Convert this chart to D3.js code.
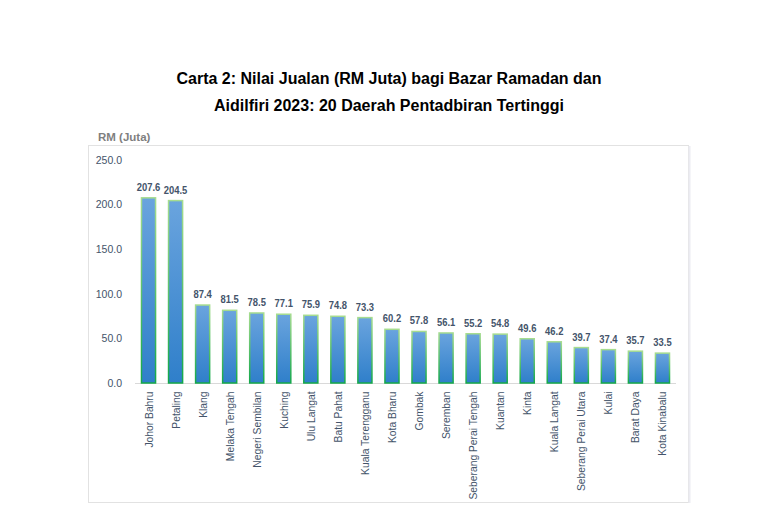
<!DOCTYPE html>
<html><head><meta charset="utf-8">
<script src="https://cdn.jsdelivr.net/npm/d3@7/dist/d3.min.js"></script>
<style>body{margin:0;background:#fff;} svg{display:block;}</style>
</head><body>
<svg id="c" width="778" height="524"></svg>
<script>
const categories = ["Johor Bahru","Petaling","Klang","Melaka Tengah","Negeri Sembilan","Kuching","Ulu Langat","Batu Pahat","Kuala Terengganu","Kota Bharu","Gombak","Seremban","Seberang Perai Tengah","Kuantan","Kinta","Kuala Langat","Seberang Perai Utara","Kulai","Barat Daya","Kota Kinabalu"];
const values = [207.6,204.5,87.4,81.5,78.5,77.1,75.9,74.8,73.3,60.2,57.8,56.1,55.2,54.8,49.6,46.2,39.7,37.4,35.7,33.5];
const yTicks = [0,50,100,150,200,250];
const titleLines = ["Carta 2: Nilai Jualan (RM Juta) bagi Bazar Ramadan dan","Aidilfiri 2023: 20 Daerah Pentadbiran Tertinggi"];
const yTitle = "RM (Juta)";

const svg = d3.select("#c");
const font = "'Liberation Sans', Arial, sans-serif";
const textCol = "#44546a";

// title
svg.selectAll("text.title").data(titleLines).join("text")
  .attr("x", 389).attr("y", (d,i)=>84 + i*27)
  .attr("text-anchor","middle").attr("font-family",font).attr("font-weight","bold")
  .attr("font-size",16).attr("fill","#000").text(d=>d);

// chart frame
svg.append("rect").attr("x",88.5).attr("y",145.5).attr("width",600).attr("height",357)
  .attr("fill","#fff").attr("stroke","#e2e2e2").attr("stroke-width",1);
svg.append("line").attr("x1",689.5).attr("x2",689.5).attr("y1",146).attr("y2",503)
  .attr("stroke","#ececf2").attr("stroke-width",2);

svg.append("text").attr("x",98).attr("y",141).attr("font-family",font).attr("font-weight","bold")
  .attr("font-size",11.5).attr("fill","#7f7f7f").text(yTitle);

const x = d3.scaleBand().domain(categories).range([135,676]).paddingInner(0.48).paddingOuter(0.24);
const y = d3.scaleLinear().domain([0,250]).range([383,160]);

const defs = svg.append("defs");
const g1 = defs.append("linearGradient").attr("id","fillG").attr("x1",0).attr("y1",0).attr("x2",0).attr("y2",1);
g1.append("stop").attr("offset","0%").attr("stop-color","#6aa4de");
g1.append("stop").attr("offset","100%").attr("stop-color","#2f7fca");
const g2 = defs.append("linearGradient").attr("id","strokeG").attr("x1",0).attr("y1",0).attr("x2",0).attr("y2",1);
g2.append("stop").attr("offset","0%").attr("stop-color","#a6dc8f");
g2.append("stop").attr("offset","100%").attr("stop-color","#13a84a");

// y axis
const yAxis = d3.axisLeft(y).tickValues(yTicks).tickFormat(d3.format(".1f")).tickSize(0).tickPadding(0);
const ya = svg.append("g").attr("transform","translate(122,0)").call(yAxis);
ya.select(".domain").remove();
ya.selectAll("text").attr("font-family",font).attr("font-size",10.5).attr("fill",textCol);

// x axis
const xAxis = d3.axisBottom(x).tickSize(0).tickPadding(0);
const xa = svg.append("g").attr("transform","translate(0,383.5)").call(xAxis);
xa.select(".domain").attr("stroke","#d9d9d9").attr("d","M135,0H676");
xa.selectAll("text").attr("font-family",font).attr("font-size",10.3).attr("fill",textCol)
  .attr("text-anchor","end").attr("dy",null)
  .attr("transform","translate(4,8) rotate(-90)");

// bars
svg.append("g").selectAll("rect").data(values).join("rect")
  .attr("x",(d,i)=>x(categories[i])).attr("width",x.bandwidth())
  .attr("y",d=>y(d)).attr("height",d=>y(0)-y(d))
  .attr("fill","url(#fillG)").attr("stroke","url(#strokeG)").attr("stroke-width",1.5);

// labels (condensed look)
svg.append("g").selectAll("text").data(values).join("text")
  .attr("transform",(d,i)=>`translate(${x(categories[i])+x.bandwidth()/2},${y(d)-7}) scale(0.82,1)`)
  .attr("text-anchor","middle").attr("font-family",font).attr("font-weight","bold")
  .attr("font-size",11.5).attr("fill",textCol).text(d=>d.toFixed(1));
</script>
</body></html>
